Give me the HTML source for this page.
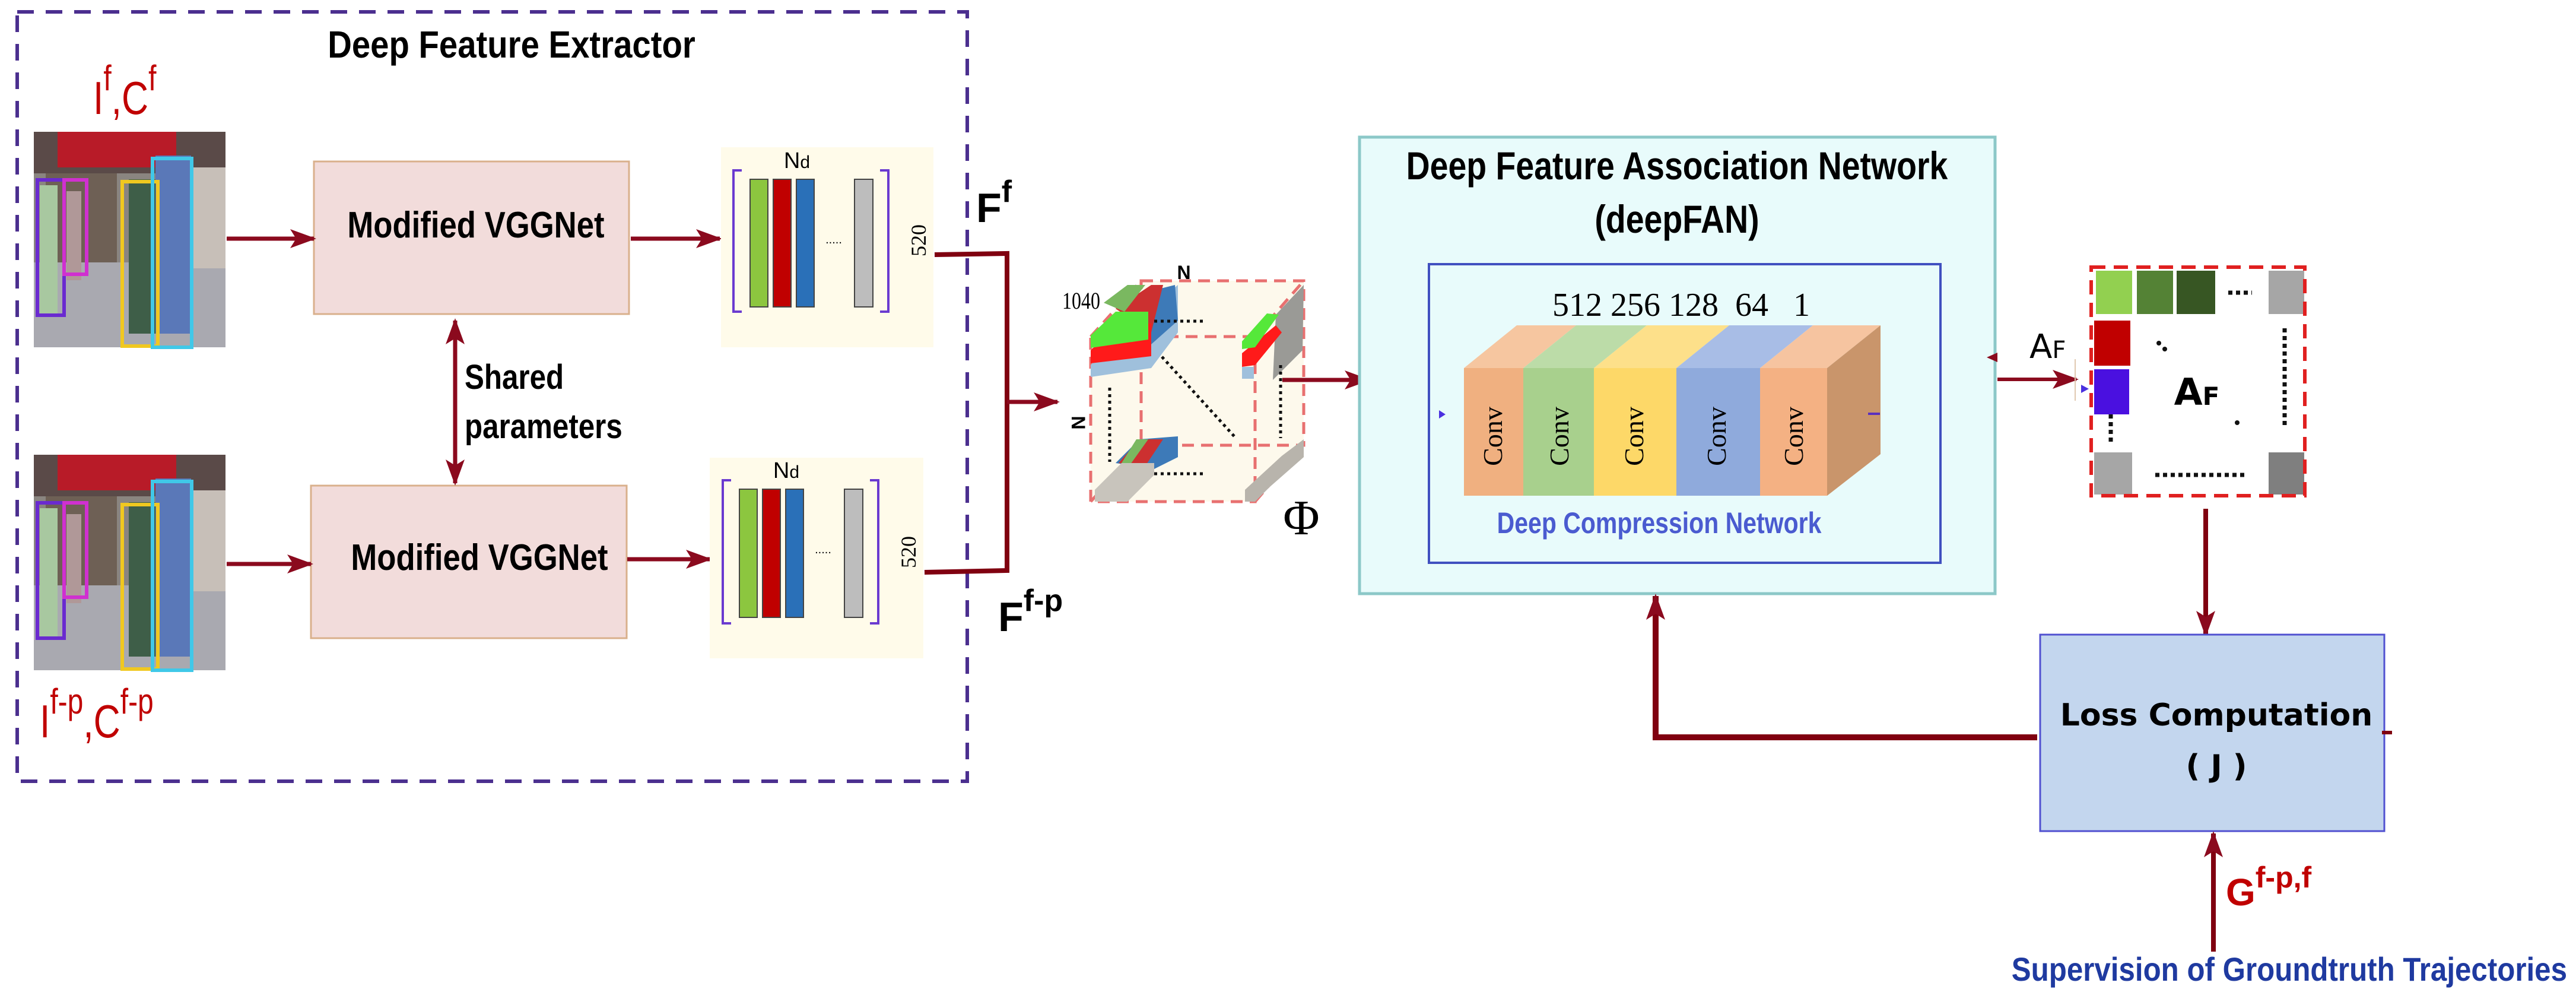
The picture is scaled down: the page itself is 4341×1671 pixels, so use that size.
<!DOCTYPE html>
<html><head><meta charset="utf-8"><style>html,body{margin:0;padding:0;background:#fff}svg{display:block}</style></head>
<body>
<svg xmlns="http://www.w3.org/2000/svg" width="4341" height="1671" viewBox="0 0 4341 1671">
<defs>
<marker id="ah" viewBox="0 0 44 32" markerWidth="44" markerHeight="32" refX="40" refY="16" orient="auto-start-reverse" markerUnits="userSpaceOnUse">
<path d="M0,0 L44,16 L0,32 L10,16 Z" fill="#8b0a1e"/></marker>
<g id="scene">
<rect x="0" y="0" width="323" height="363" fill="#8a8580"/>
<rect x="0" y="0" width="323" height="70" fill="#5a4a48"/>
<rect x="40" y="0" width="200" height="60" fill="#b81b28"/>
<rect x="0" y="220" width="323" height="143" fill="#a9a9b0"/>
<rect x="20" y="70" width="120" height="150" fill="#6e6055"/>
<rect x="250" y="60" width="73" height="170" fill="#c7bfb8"/>
<rect x="160" y="80" width="50" height="260" fill="#3e5e48"/>
<rect x="205" y="40" width="60" height="300" fill="#5a78b8"/>
<rect x="10" y="90" width="30" height="220" fill="#a8c8a0"/>
<rect x="55" y="100" width="25" height="150" fill="#b09898"/>
<rect x="6" y="81" width="45" height="228" fill="none" stroke="#6a2ad0" stroke-width="6"/>
<rect x="51" y="81" width="38" height="159" fill="none" stroke="#d030d0" stroke-width="6"/>
<rect x="149" y="84" width="60" height="277" fill="none" stroke="#f0c820" stroke-width="6"/>
<rect x="200" y="45" width="66" height="318" fill="none" stroke="#40c8e8" stroke-width="6"/>
</g>
</defs>

<rect x="29" y="20" width="1601" height="1296" fill="none" stroke="#4b2f8f" stroke-width="6" stroke-dasharray="28,20"/>
<text x="862" y="97" font-family="Liberation Sans, sans-serif" font-weight="bold" font-size="64" text-anchor="middle" transform="translate(862,0) scale(0.88,1) translate(-862,0)">Deep Feature Extractor</text>

<text x="157" y="192" font-family="Liberation Sans, sans-serif" font-size="78" fill="#c00000" transform="translate(157,0) scale(0.8,1) translate(-157,0)">I<tspan font-size="60" dy="-40">f</tspan><tspan dy="40">,C</tspan><tspan font-size="60" dy="-40">f</tspan></text>
<text x="67" y="1242" font-family="Liberation Sans, sans-serif" font-size="78" fill="#c00000" transform="translate(67,0) scale(0.8,1) translate(-67,0)">I<tspan font-size="60" dy="-40">f-p</tspan><tspan dy="40">,C</tspan><tspan font-size="60" dy="-40">f-p</tspan></text>

<use href="#scene" x="57" y="222"/>
<use href="#scene" x="57" y="766"/>

<rect x="529" y="272" width="531" height="257" fill="#f2dcdb" stroke="#d9b08c" stroke-width="3"/>
<text x="802" y="400" font-family="Liberation Sans, sans-serif" font-weight="bold" font-size="62" text-anchor="middle" transform="translate(802,0) scale(0.85,1) translate(-802,0)">Modified VGGNet</text>
<rect x="524" y="818" width="532" height="257" fill="#f2dcdb" stroke="#d9b08c" stroke-width="3"/>
<text x="808" y="960" font-family="Liberation Sans, sans-serif" font-weight="bold" font-size="62" text-anchor="middle" transform="translate(808,0) scale(0.85,1) translate(-808,0)">Modified VGGNet</text>

<g stroke="#8b0a1e" stroke-width="7" fill="none">
<line x1="382" y1="402" x2="529" y2="402" marker-end="url(#ah)"/>
<line x1="382" y1="950" x2="524" y2="950" marker-end="url(#ah)"/>
<line x1="1063" y1="402" x2="1213" y2="402" marker-end="url(#ah)"/>
<line x1="1057" y1="942" x2="1196" y2="942" marker-end="url(#ah)"/>
<line x1="767" y1="540" x2="767" y2="814" marker-start="url(#ah)" marker-end="url(#ah)"/>
</g>
<text x="783" y="655" font-family="Liberation Sans, sans-serif" font-weight="bold" font-size="58" transform="translate(783,0) scale(0.85,1) translate(-783,0)">Shared</text>
<text x="783" y="738" font-family="Liberation Sans, sans-serif" font-weight="bold" font-size="58" transform="translate(783,0) scale(0.85,1) translate(-783,0)">parameters</text>

<g>
<rect x="1215" y="248" width="358" height="337" fill="#fffbea"/>
<path d="M1250,287 H1236 V525 H1250 M1483,287 H1497 V525 H1483" fill="none" stroke="#6a3ad0" stroke-width="4"/>
<rect x="1264" y="302" width="30" height="215" fill="#8cc63f" stroke="#444" stroke-width="2"/>
<rect x="1303" y="302" width="30" height="215" fill="#c00000" stroke="#444" stroke-width="2"/>
<rect x="1342" y="302" width="30" height="215" fill="#2a70b8" stroke="#444" stroke-width="2"/>
<rect x="1440" y="302" width="31" height="215" fill="#bdbdbd" stroke="#444" stroke-width="2"/>
<text x="1405" y="410" font-family="Liberation Sans, sans-serif" font-size="20" text-anchor="middle">.....</text>
<text x="1343" y="283" font-family="Liberation Sans, sans-serif" font-size="38" text-anchor="middle">N<tspan font-size="30">d</tspan></text>
<text x="0" y="0" font-family="Liberation Serif, serif" font-size="36" text-anchor="middle" transform="translate(1560,405) rotate(-90)">520</text>
</g>
<g>
<rect x="1196" y="771" width="360" height="338" fill="#fffbea"/>
<path d="M1232,809 H1218 V1050 H1232 M1466,809 H1480 V1050 H1466" fill="none" stroke="#6a3ad0" stroke-width="4"/>
<rect x="1246" y="824" width="30" height="216" fill="#8cc63f" stroke="#444" stroke-width="2"/>
<rect x="1285" y="824" width="30" height="216" fill="#c00000" stroke="#444" stroke-width="2"/>
<rect x="1324" y="824" width="30" height="216" fill="#2a70b8" stroke="#444" stroke-width="2"/>
<rect x="1423" y="824" width="31" height="216" fill="#bdbdbd" stroke="#444" stroke-width="2"/>
<text x="1387" y="932" font-family="Liberation Sans, sans-serif" font-size="20" text-anchor="middle">.....</text>
<text x="1325" y="805" font-family="Liberation Sans, sans-serif" font-size="38" text-anchor="middle">N<tspan font-size="30">d</tspan></text>
<text x="0" y="0" font-family="Liberation Serif, serif" font-size="36" text-anchor="middle" transform="translate(1543,930) rotate(-90)">520</text>
</g>

<path d="M1575,429 L1697,427 L1697,961 L1558,964" fill="none" stroke="#800010" stroke-width="8"/>
<line x1="1697" y1="677" x2="1782" y2="677" stroke="#8b0a1e" stroke-width="7" marker-end="url(#ah)"/>
<text x="1645" y="374" font-family="Liberation Sans, sans-serif" font-weight="bold" font-size="70">F<tspan font-size="52" dy="-34">f</tspan></text>
<text x="1682" y="1063" font-family="Liberation Sans, sans-serif" font-weight="bold" font-size="70">F<tspan font-size="52" dy="-34">f-p</tspan></text>

<g>
<path d="M1838,567 L1923,473 L2197,473 L2197,750 L2115,845 L1838,845 Z" fill="#fdf9ec"/>
<g fill="none" stroke="#e87070" stroke-width="5" stroke-dasharray="20,12">
<rect x="1923" y="473" width="274" height="277"/>
<rect x="1838" y="567" width="277" height="278"/>
<line x1="1838" y1="567" x2="1923" y2="473"/><line x1="2115" y1="567" x2="2197" y2="473"/>
<line x1="1838" y1="845" x2="1923" y2="750"/><line x1="2115" y1="845" x2="2197" y2="750"/>
</g>
<path d="M1838,615 L1885,560 L1985,480 L1985,560 L1940,620 L1838,635 Z" fill="#9fc0dc"/>
<path d="M1900,500 L1980,480 L1985,540 L1940,580 Z" fill="#3d7ab8"/>
<path d="M1880,520 L1940,480 L1960,480 L1940,560 Z" fill="#cc3030"/>
<path d="M1838,590 L1885,545 L1940,545 L1940,600 L1838,612 Z" fill="#ff1a1a"/>
<path d="M1838,565 L1880,525 L1935,525 L1935,572 L1838,586 Z" fill="#55e83a"/>
<path d="M1860,510 L1900,480 L1930,480 L1895,525 Z" fill="#7ab860"/>
<path d="M2145,640 L2195,590 L2197,480 L2150,530 Z" fill="#9a9a96"/>
<rect x="2093" y="618" width="20" height="20" fill="#9fc0dc"/>
<path d="M2093,595 L2150,548 L2160,560 L2115,615 L2093,618 Z" fill="#ff1a1a"/>
<path d="M2093,575 L2135,528 L2155,530 L2115,585 L2093,588 Z" fill="#55e83a"/>
<path d="M1880,780 L1920,740 L1985,735 L1985,770 L1945,790 Z" fill="#3d7ab8"/>
<path d="M1885,780 L1920,740 L1960,740 L1930,785 Z" fill="#cc3030"/>
<path d="M1890,780 L1915,740 L1935,740 L1905,782 Z" fill="#7ab860"/>
<path d="M1845,845 L1845,825 L1890,780 L1945,780 L1945,800 L1900,845 Z" fill="#c8c4bc"/>
<path d="M2098,845 L2098,825 L2160,768 L2197,740 L2197,770 L2140,820 L2115,845 Z" fill="#b8b4ac"/>
<g stroke="#111" stroke-width="5" stroke-dasharray="5,6" fill="none">
<line x1="1945" y1="541" x2="2033" y2="541"/>
<line x1="1945" y1="798" x2="2033" y2="798"/>
<line x1="1870" y1="653" x2="1870" y2="778"/>
<line x1="2158" y1="615" x2="2158" y2="738"/>
<line x1="1958" y1="601" x2="2080" y2="735"/>
</g>
<text x="1995" y="470" font-family="Liberation Sans, sans-serif" font-weight="bold" font-size="32" text-anchor="middle">N</text>
<text x="1822" y="520" font-family="Liberation Serif, serif" font-size="40" text-anchor="middle" transform="translate(1822,0) scale(0.8,1) translate(-1822,0)">1040</text>
<text x="0" y="0" font-family="Liberation Sans, sans-serif" font-weight="bold" font-size="32" text-anchor="middle" transform="translate(1806,712) rotate(90)">N</text>
<text x="2193" y="900" font-family="Liberation Serif, serif" font-size="84" text-anchor="middle">Φ</text>
</g>
<line x1="2161" y1="640" x2="2306" y2="640" stroke="#8b0a1e" stroke-width="7" marker-end="url(#ah)"/>

<rect x="2291" y="231" width="1071" height="769" fill="#e8fbfb" stroke="#8cc8c8" stroke-width="5"/>
<text x="2826" y="302" font-family="Liberation Sans, sans-serif" font-weight="bold" font-size="66" text-anchor="middle" transform="translate(2826,0) scale(0.84,1) translate(-2826,0)">Deep Feature Association Network</text>
<text x="2826" y="392" font-family="Liberation Sans, sans-serif" font-weight="bold" font-size="66" text-anchor="middle" transform="translate(2826,0) scale(0.84,1) translate(-2826,0)">(deepFAN)</text>
<rect x="2408" y="445" width="862" height="503" fill="none" stroke="#4050c0" stroke-width="4"/>
<text x="2833" y="532" font-family="Liberation Serif, serif" font-size="56" text-anchor="middle" xml:space="preserve">512 256 128  64   1</text>
<path d="M2467,620 L2556,548 L2656,548 L2567,620 Z" fill="#f6c6a0"/>
<path d="M2567,620 L2656,548 L2775,548 L2686,620 Z" fill="#bcdca8"/>
<path d="M2686,620 L2775,548 L2914,548 L2825,620 Z" fill="#fde08a"/>
<path d="M2825,620 L2914,548 L3055,548 L2966,620 Z" fill="#a8bde6"/>
<path d="M2966,620 L3055,548 L3169,548 L3079,620 Z" fill="#f6c4a0"/>
<rect x="2467" y="620" width="100" height="215" fill="#f0b080"/>
<rect x="2567" y="620" width="119" height="215" fill="#a8d08d"/>
<rect x="2686" y="620" width="139" height="215" fill="#fdd868"/>
<rect x="2825" y="620" width="141" height="215" fill="#8faadc"/>
<rect x="2966" y="620" width="113" height="215" fill="#f4b183"/>
<path d="M3079,620 L3169,548 L3169,765 L3079,835 Z" fill="#c9956b"/>
<g font-family="Liberation Serif, serif" font-size="46" text-anchor="middle">
<text transform="translate(2531,735) rotate(-90)">Conv</text>
<text transform="translate(2643,735) rotate(-90)">Conv</text>
<text transform="translate(2769,735) rotate(-90)">Conv</text>
<text transform="translate(2908,735) rotate(-90)">Conv</text>
<text transform="translate(3038,735) rotate(-90)">Conv</text>
</g>
<path d="M2425,691 L2425,705 L2436,698 Z" fill="#4a30e0"/>
<line x1="3148" y1="697" x2="3168" y2="697" stroke="#5a30c0" stroke-width="4"/>
<text x="2796" y="898" font-family="Liberation Sans, sans-serif" font-weight="bold" font-size="50" fill="#4a5bd0" text-anchor="middle" transform="translate(2796,0) scale(0.82,1) translate(-2796,0)">Deep Compression Network</text>

<line x1="3366" y1="639" x2="3499" y2="639" stroke="#8b0a1e" stroke-width="6" marker-end="url(#ah)"/>
<path d="M3348,602 L3366,594 L3366,610 Z" fill="#8b0a1e"/>
<line x1="3497" y1="605" x2="3497" y2="675" stroke="#e0c8b0" stroke-width="2"/>
<text x="3420" y="603" font-family="DejaVu Sans, sans-serif" font-size="56">A<tspan font-size="40">F</tspan></text>
<rect x="3532" y="456" width="61" height="73" fill="#92d050"/>
<rect x="3601" y="456" width="61" height="73" fill="#548235"/>
<rect x="3668" y="456" width="65" height="73" fill="#375623"/>
<rect x="3823" y="456" width="60" height="73" fill="#a6a6a6"/>
<rect x="3529" y="540" width="61" height="76" fill="#c00000"/>
<rect x="3529" y="622" width="59" height="76" fill="#4a10e0"/>
<rect x="3529" y="762" width="64" height="71" fill="#a6a6a6"/>
<rect x="3823" y="762" width="60" height="71" fill="#7f7f7f"/>
<rect x="3524" y="450" width="360" height="385" fill="none" stroke="#e02020" stroke-width="6" stroke-dasharray="24,14"/>
<path d="M3507,648 L3507,662 L3520,655 Z" fill="#4a30e0"/>
<g stroke="#111" stroke-width="7" stroke-dasharray="7,6" fill="none">
<line x1="3755" y1="493" x2="3795" y2="493"/>
<line x1="3850" y1="553" x2="3850" y2="720"/>
<line x1="3632" y1="800" x2="3783" y2="800"/>
<line x1="3557" y1="698" x2="3557" y2="746"/>
</g>
<circle cx="3638" cy="578" r="4" fill="#111"/><circle cx="3648" cy="588" r="4" fill="#111"/>
<circle cx="3770" cy="712" r="4" fill="#111"/>
<text x="3702" y="682" font-family="DejaVu Sans, sans-serif" font-weight="bold" font-size="62" text-anchor="middle">A<tspan font-size="42">F</tspan></text>

<line x1="3717" y1="857" x2="3717" y2="1069" stroke="#800010" stroke-width="8" marker-end="url(#ah)"/>
<rect x="3438" y="1069" width="580" height="331" fill="#c3d6ee" stroke="#5050d0" stroke-width="3"/>
<text x="3735" y="1222" font-family="DejaVu Sans, sans-serif" font-weight="bold" font-size="52" text-anchor="middle">Loss Computation</text>
<text x="3735" y="1308" font-family="DejaVu Sans, sans-serif" font-weight="bold" font-size="52" text-anchor="middle">( J )</text>
<line x1="4014" y1="1234" x2="4031" y2="1234" stroke="#800010" stroke-width="6"/>
<path d="M3433,1242 L2790,1242 L2790,1004" fill="none" stroke="#800010" stroke-width="10" marker-end="url(#ah)"/>
<line x1="3730" y1="1603" x2="3730" y2="1404" stroke="#800010" stroke-width="8" marker-end="url(#ah)"/>
<text x="3751" y="1525" font-family="Liberation Sans, sans-serif" font-weight="bold" font-size="64" fill="#c00000">G<tspan font-size="50" dy="-30">f-p,f</tspan></text>
<text x="4326" y="1652" font-family="Liberation Sans, sans-serif" font-weight="bold" font-size="56" fill="#1f3aa0" text-anchor="end" transform="translate(4326,0) scale(0.88,1) translate(-4326,0)">Supervision of Groundtruth Trajectories</text>
</svg>
</body></html>
